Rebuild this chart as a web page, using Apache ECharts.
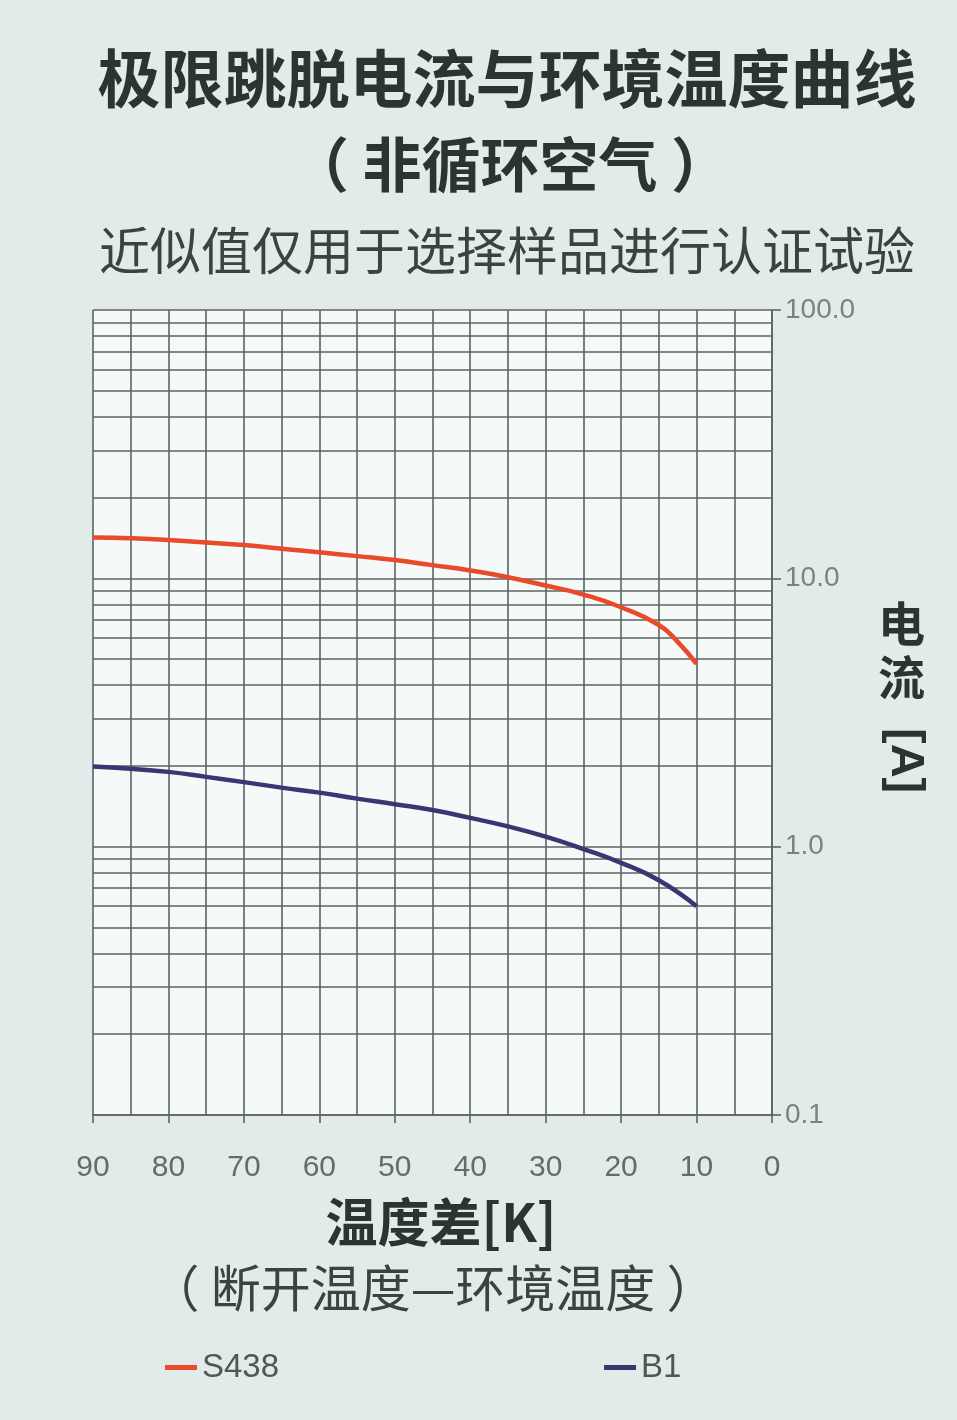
<!DOCTYPE html>
<html>
<head>
<meta charset="utf-8">
<script src="https://cdn.jsdelivr.net/npm/echarts@6/dist/echarts.min.js"></script>
<style>
html,body{margin:0;padding:0;background:#e3ebea;}
#c{width:957px;height:1420px;}
</style>
</head>
<body>
<div id="c"></div>
<script>
// ---- data ----
const titleLine1 = '极限跳脱电流与环境温度曲线';
const titleLine2 = '（ 非循环空气 ）';
const titleLine3 = '近似值仅用于选择样品进行认证试验';
const xName = '温度差[K]';
const xSubName = '（ 断开温度—环境温度 ）';
const yNameParts = ['电', '流', '[A]'];
const seriesNames = ['S438', 'B1'];
const xS438 = [90, 85, 80, 75, 70, 65, 60, 55, 50, 45, 40, 35, 30, 25, 20, 15, 12.5, 10];
const yS438 = [14.2, 14.1, 13.9, 13.6, 13.3, 12.9, 12.5, 12.1, 11.7, 11.2, 10.7, 10.1, 9.4, 8.7, 7.8, 6.7, 5.8, 4.8];
const xB1 = [90, 85, 80, 75, 70, 65, 60, 55, 50, 45, 40, 35, 30, 25, 20, 15, 10];
const yB1 = [1.99, 1.95, 1.9, 1.82, 1.74, 1.66, 1.59, 1.51, 1.44, 1.37, 1.28, 1.19, 1.09, 0.98, 0.87, 0.75, 0.6];
const xTicks = [90, 80, 70, 60, 50, 40, 30, 20, 10, 0];
const yTickValues = [0.1, 1, 10, 100];
const yTickLabels = ['0.1', '1.0', '10.0', '100.0'];
const yMinorLines = [0.2, 0.3, 0.4, 0.5, 0.6, 0.7, 0.8, 0.9, 2, 3, 4, 5, 6, 7, 8, 9, 20, 30, 40, 50, 60, 70, 80, 90];

// ---- chart ----
const FONT = "'Liberation Sans', 'Noto Sans CJK SC', sans-serif";
const CJK = "'Noto Sans CJK SC', sans-serif";
const gridColor = '#586663';
const chart = echarts.init(document.getElementById('c'), null, {renderer: 'canvas'});

function pair(xs, ys) { return xs.map((x, i) => [x, ys[i]]); }

const option = {
  backgroundColor: '#e3ebea',
  animation: false,
  title: [
    {text: titleLine1, left: 502, top: 42, textAlign: 'center',
     textStyle: {fontFamily: CJK, fontSize: 63, fontWeight: 'bold', color: '#2b3432'}},
    {text: titleLine2, left: 505, top: 130, textAlign: 'center',
     textStyle: {fontFamily: CJK, fontSize: 59, fontWeight: 'bold', color: '#2b3432'}},
    {text: titleLine3, left: 502, top: 220, textAlign: 'center',
     textStyle: {fontFamily: CJK, fontSize: 51, fontWeight: 'normal', color: '#3a4341'}}
  ],
  legend: {
    data: seriesNames,
    left: 160, top: 1346,
    itemWidth: 32, itemHeight: 5, itemGap: 325,
    icon: 'rect',
    textStyle: {fontFamily: FONT, fontSize: 33, color: '#4d5755'}
  },
  grid: {left: 93, right: 185, top: 310, bottom: 305, show: true, backgroundColor: '#f5f9f8', borderWidth: 0},
  xAxis: {
    type: 'value', min: 0, max: 90, interval: 10, inverse: true,
    axisLine: {show: true, lineStyle: {color: gridColor, width: 1.6}},
    axisTick: {show: true, length: 8, lineStyle: {color: gridColor, width: 1.6}},
    axisLabel: {fontFamily: FONT, fontSize: 30, color: '#646c6a', margin: 38,
      formatter: v => xTicks.indexOf(v) >= 0 ? String(v) : ''},
    splitLine: {show: true, lineStyle: {color: gridColor, width: 1.6}},
    minorTick: {show: false, splitNumber: 2},
    minorSplitLine: {show: true, lineStyle: {color: gridColor, width: 1.6}}
  },
  yAxis: {
    type: 'log', logBase: 10, min: 0.1, max: 100, position: 'right',
    axisLine: {show: true, lineStyle: {color: gridColor, width: 1.6}},
    axisTick: {show: true, length: 9, lineStyle: {color: gridColor, width: 1.6}},
    axisLabel: {fontFamily: FONT, fontSize: 28, color: '#7a8280', margin: 13,
      formatter: v => {
        const i = yTickValues.findIndex(t => Math.abs(t - v) < 1e-9);
        return i >= 0 ? yTickLabels[i] : '';
      }},
    splitLine: {show: true, lineStyle: {color: gridColor, width: 1.6}}
  },
  graphic: [
    {type: 'text', x: 441, y: 1196, style: {text: xName, font: "bold 52px " + CJK, fill: '#2b3432', textAlign: 'center'}},
    {type: 'text', x: 433, y: 1263, style: {text: xSubName, font: "normal 50px " + CJK, fill: '#3a4341', textAlign: 'center'}},
    {type: 'text', x: 878, y: 600, style: {text: yNameParts[0], font: "bold 47px " + CJK, fill: '#2b3432'}},
    {type: 'text', x: 878, y: 654, style: {text: yNameParts[1], font: "bold 47px " + CJK, fill: '#2b3432'}},
    {type: 'text', x: 928, y: 728, rotation: -Math.PI / 2, style: {text: yNameParts[2], font: "bold 47px " + FONT, fill: '#2b3432'}}
  ],
  series: [
    {
      name: seriesNames[0], type: 'line', smooth: true, showSymbol: false,
      data: pair(xS438, yS438),
      lineStyle: {color: '#e84a2a', width: 4.5}, itemStyle: {color: '#e84a2a'},
      z: 5,
      markLine: {
        silent: true, symbol: 'none', animation: false,
        label: {show: false},
        lineStyle: {color: gridColor, width: 1.6, type: 'solid'},
        data: yMinorLines.map(v => ({yAxis: v}))
      }
    },
    {
      name: seriesNames[1], type: 'line', smooth: true, showSymbol: false,
      data: pair(xB1, yB1),
      lineStyle: {color: '#3b3672', width: 4.5}, itemStyle: {color: '#3b3672'},
      z: 5
    }
  ]
};
chart.setOption(option);
</script>
</body>
</html>
